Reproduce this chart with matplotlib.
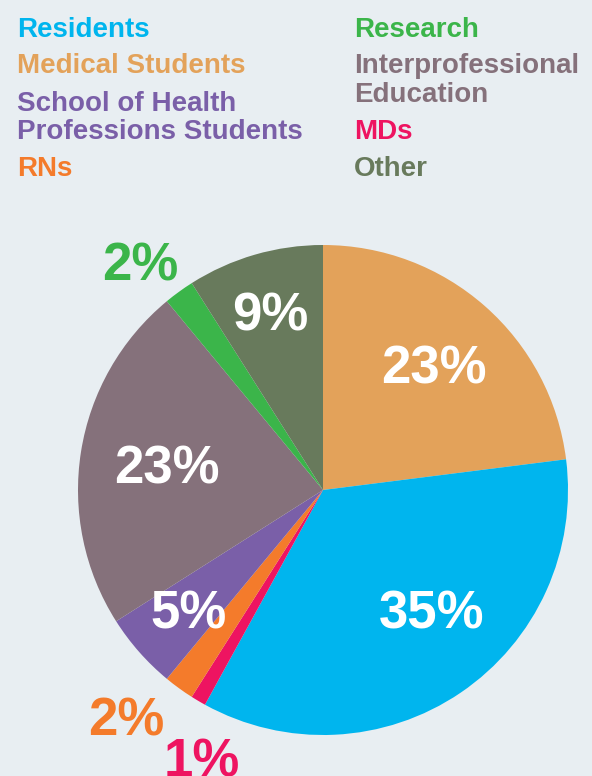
import matplotlib.pyplot as plt

# slices, clockwise from 12 o'clock
categories = ['Medical Students', 'Residents', 'MDs', 'RNs',
              'School of Health\nProfessions Students', 'Interprofessional\nEducation',
              'Research', 'Other']
shares = [23, 35, 1, 2, 5, 23, 2, 9]
colors = ['#E3A25A', '#00B5EE', '#EE1461', '#F47B2B',
          '#7A5FA8', '#85717B', '#3BB54A', '#687A5C']
# labels drawn in white inside the slice, or in the slice colour outside it
label_inside = [True, True, False, False, True, True, False, True]
# label centres, in pie-radius units
label_pos = [(0.453, 0.510), (0.445, -0.490), (-0.494, -1.094), (-0.804, -0.927),
             (-0.547, -0.490), (-0.637, 0.102), (-0.747, 0.931), (-0.216, 0.727)]

# legend text, two columns
legend_left = ['Residents', 'Medical Students', 'School of Health\nProfessions Students', 'RNs']
legend_right = ['Research', 'Interprofessional\nEducation', 'MDs', 'Other']

bg = '#E8EEF2'
W, H = 592, 776
plt.rcParams['font.family'] = ['Liberation Sans', 'DejaVu Sans']

fig = plt.figure(figsize=(W / 100, H / 100), dpi=100, facecolor=bg)

# pie centre (323, 490) px, radius 245 px
cx, cy, r = 323, 490, 245
ax = fig.add_axes([(cx - r) / W, 1 - (cy + r) / H, 2 * r / W, 2 * r / H])
ax.set_facecolor(bg)
ax.pie(shares, colors=colors, startangle=90, counterclock=False, radius=1,
       wedgeprops=dict(linewidth=0))
ax.set_xlim(-1, 1)
ax.set_ylim(-1, 1)
ax.set_aspect('equal')
ax.axis('off')

cap = 18.5 / r  # half the digit height, so the text is centred on its digits
for share, col, inside, (x, y) in zip(shares, colors, label_inside, label_pos):
    ax.text(x, y - cap, f'{share}%', ha='center', va='baseline',
            fontsize=38, fontweight='bold', color='white' if inside else col,
            clip_on=False)

# legend
name_color = dict(zip(categories, colors))
left_base = [36.7, 73, 110.7, 176]
right_base = [36.7, 73, 139, 176]
for names, x0, bases in [(legend_left, 17, left_base), (legend_right, 354, right_base)]:
    for name, b in zip(names, bases):
        for k, line in enumerate(name.split('\n')):
            fig.text(x0 / W, 1 - (b + k * 28.7) / H, line, ha='left', va='baseline',
                     fontsize=20, fontweight='bold', color=name_color[name])

fig.savefig('out.png', dpi=100, facecolor=bg)
